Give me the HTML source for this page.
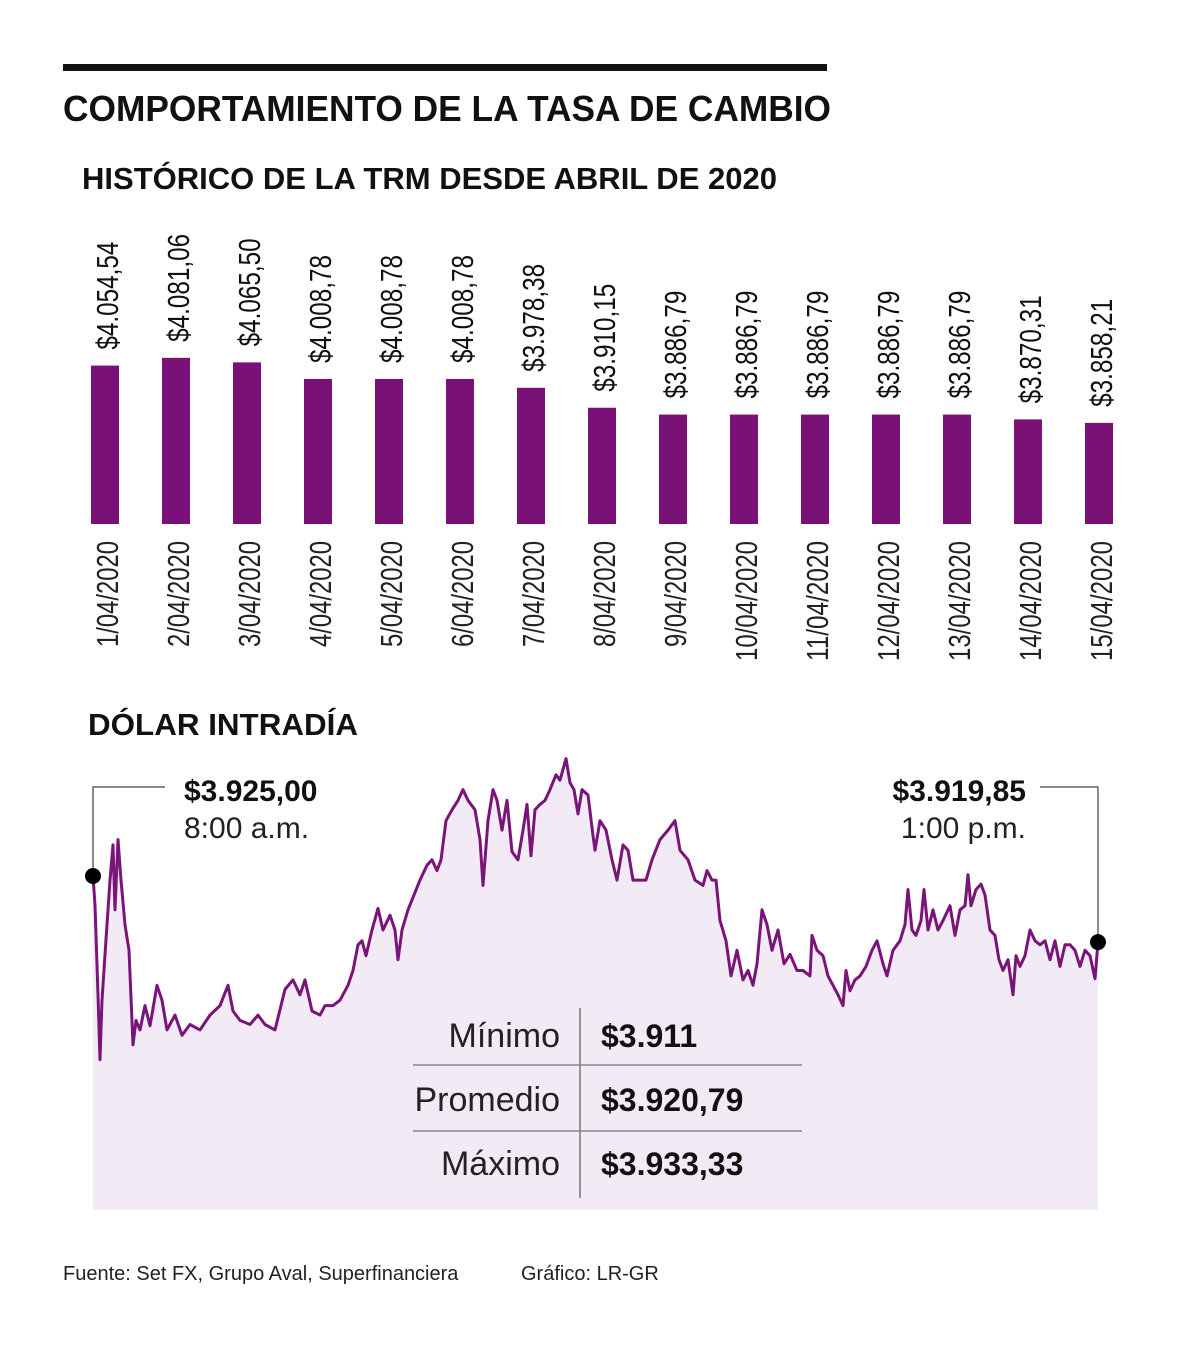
<!DOCTYPE html>
<html><head><meta charset="utf-8"><style>
html,body{margin:0;padding:0;background:#fff;}
svg{display:block;font-family:"Liberation Sans",sans-serif;}
</style></head><body>
<svg id="chart" width="1200" height="1345" viewBox="0 0 1200 1345" xmlns="http://www.w3.org/2000/svg">
<rect x="63" y="64" width="764" height="7" fill="#111"/>
<text x="63" y="121" font-size="36" font-weight="bold" fill="#111" textLength="768" lengthAdjust="spacingAndGlyphs">COMPORTAMIENTO DE LA TASA DE CAMBIO</text>
<text x="82" y="189" font-size="31" font-weight="bold" fill="#111" textLength="695" lengthAdjust="spacingAndGlyphs">HISTÓRICO DE LA TRM DESDE ABRIL DE 2020</text>
<g id="bars"></g>
<text x="88" y="735" font-size="31" font-weight="bold" fill="#111" textLength="270" lengthAdjust="spacingAndGlyphs">DÓLAR INTRADÍA</text>
<g id="intraday"></g>
<g>
<line x1="580" y1="1008" x2="580" y2="1198" stroke="#777" stroke-width="1.5"/>
<line x1="413" y1="1065" x2="802" y2="1065" stroke="#888" stroke-width="1.5"/>
<line x1="413" y1="1131" x2="802" y2="1131" stroke="#888" stroke-width="1.5"/>
<text x="560" y="1047" font-size="34" fill="#222" text-anchor="end">Mínimo</text>
<text x="560" y="1111" font-size="34" fill="#222" text-anchor="end">Promedio</text>
<text x="560" y="1175" font-size="34" fill="#222" text-anchor="end">Máximo</text>
<text x="601" y="1047" font-size="32" font-weight="bold" fill="#111">$3.911</text>
<text x="601" y="1111" font-size="32" font-weight="bold" fill="#111">$3.920,79</text>
<text x="601" y="1175" font-size="32" font-weight="bold" fill="#111">$3.933,33</text>
</g>
<text x="63" y="1280" font-size="20" fill="#222">Fuente: Set FX, Grupo Aval, Superfinanciera</text>
<text x="521" y="1280" font-size="20" fill="#222">Gráfico: LR-GR</text>
</svg>
<script>
const dates = ["1/04/2020","2/04/2020","3/04/2020","4/04/2020","5/04/2020","6/04/2020","7/04/2020","8/04/2020","9/04/2020","10/04/2020","11/04/2020","12/04/2020","13/04/2020","14/04/2020","15/04/2020"];
const trm = [4054.54,4081.06,4065.50,4008.78,4008.78,4008.78,3978.38,3910.15,3886.79,3886.79,3886.79,3886.79,3886.79,3870.31,3858.21];
const trmLabels = ["$4.054,54","$4.081,06","$4.065,50","$4.008,78","$4.008,78","$4.008,78","$3.978,38","$3.910,15","$3.886,79","$3.886,79","$3.886,79","$3.886,79","$3.886,79","$3.870,31","$3.858,21"];

const times = [0,2,5,7,9,13,17,20,22,25,28,32,36,40,43,47,52,57,64,69,74,82,89,97,107,117,127,135,140,147,157,165,172,182,192,200,207,212,219,227,232,240,247,255,260,265,269,273,279,285,290,297,302,305,309,315,321,327,334,339,344,348,353,359,365,370,375,382,387,390,395,400,404,409,414,419,425,430,434,438,442,447,452,457,463,467,470,473,477,481,485,489,495,500,502,507,513,519,524,530,535,540,547,553,559,567,575,582,587,595,602,610,614,619,623,627,633,638,644,650,655,660,664,669,674,679,685,691,697,704,710,717,719,724,730,735,740,745,750,753,757,762,767,773,779,784,790,794,800,807,812,815,819,823,828,831,835,840,845,850,857,862,867,872,875,878,883,888,892,897,902,906,910,915,920,923,927,932,937,942,947,952,957,962,967,972,977,982,987,992,997,1002,1005];
const rates = [3925.0,3922.85,3916.2,3911.4,3915.8,3920.3,3924.7,3927.3,3922.5,3927.7,3924.7,3921.4,3919.5,3912.5,3914.3,3913.6,3915.4,3913.9,3916.9,3915.8,3913.6,3914.7,3913.2,3914.0,3913.6,3914.7,3915.4,3916.9,3915.0,3914.3,3914.0,3914.7,3914.0,3913.6,3916.6,3917.3,3916.2,3917.3,3915.0,3914.7,3915.4,3915.4,3915.8,3916.9,3918.0,3919.9,3920.2,3919.1,3921.0,3922.6,3921.0,3922.1,3921.0,3918.8,3921.0,3922.5,3923.6,3924.7,3925.8,3926.2,3925.4,3926.2,3929.1,3929.9,3930.6,3931.4,3930.6,3929.9,3927.7,3924.3,3929.1,3931.4,3930.6,3928.4,3930.6,3926.8,3926.2,3928.4,3930.3,3926.5,3929.9,3930.3,3930.6,3931.4,3932.5,3932.1,3932.9,3933.7,3931.9,3931.4,3929.6,3931.4,3931.0,3928.0,3926.9,3929.1,3928.4,3926.2,3924.7,3927.3,3926.9,3924.7,3924.7,3924.7,3926.2,3927.7,3928.4,3929.1,3926.9,3926.2,3924.7,3924.3,3925.4,3924.7,3924.7,3921.7,3920.2,3917.6,3919.5,3917.3,3918.0,3916.9,3918.5,3922.5,3921.4,3919.5,3921.0,3918.5,3919.2,3918.0,3918.0,3917.6,3920.6,3919.5,3919.1,3917.6,3916.9,3916.2,3915.4,3918.0,3916.5,3917.3,3917.6,3918.3,3919.5,3920.2,3918.5,3917.6,3919.5,3920.2,3921.4,3924.0,3921.0,3920.6,3921.7,3924.0,3921.0,3922.5,3921.0,3921.7,3922.8,3920.6,3922.5,3922.8,3925.1,3922.8,3924.0,3924.4,3923.6,3921.0,3920.6,3918.8,3918.0,3918.8,3916.2,3919.1,3918.3,3919.1,3921.0,3920.2,3919.9,3920.2,3918.8,3920.2,3918.3,3919.9,3919.9,3919.5,3918.3,3919.5,3919.1,3917.4,3920.1];

const NS = "http://www.w3.org/2000/svg";
function mk(tag, attrs, parent){const e=document.createElementNS(NS,tag);for(const k in attrs)e.setAttribute(k,attrs[k]);parent.appendChild(e);return e;}

const barBase = 524, barVmin = 3512, barScale = 0.292;
const barY = v => barBase - (v - barVmin) * barScale;
const barX = i => 91 + i * 71;
const bars = document.getElementById('bars');
trm.forEach((v,i)=>{
  const x = barX(i), y = barY(v);
  const r = mk('rect',{x:x,y:y,width:28,height:barBase-y,fill:'#7a1176'},bars);
  
  
  const t = mk('text',{transform:`translate(${x+27},${y-16}) rotate(-90)`,'font-size':31,fill:'#111',textLength:108,lengthAdjust:'spacingAndGlyphs'},bars);
  t.textContent = trmLabels[i];
  
  
  const d = mk('text',{transform:`translate(${x+27},541) rotate(-90)`,'font-size':31,fill:'#222','text-anchor':'end',textLength:dates[i].length>9?120:106,lengthAdjust:'spacingAndGlyphs'},bars);
  d.textContent = dates[i];
  
  
});

const ix = t => 93 + t;
const iy = v => 876 - (v - 3925) * 13.5;
const g = document.getElementById('intraday');
const n = Math.min(times.length, rates.length);
const pts = [];
for (let i=0;i<n;i++) pts.push(ix(times[i]).toFixed(1)+','+iy(rates[i]).toFixed(1));
const x0 = ix(times[0]), y0 = iy(rates[0]), x1 = ix(times[n-1]), y1 = iy(rates[n-1]);
const area = mk('polygon',{points:`${x0},1210 `+pts.join(' ')+` ${x1},1210`,fill:'#f2ebf6'},g);


const line = mk('polyline',{points:pts.join(' '),fill:'none',stroke:'#7a1478','stroke-width':3,'stroke-linejoin':'round'},g);


const c1 = mk('polyline',{points:`${x0},${y0} ${x0},787 165,787`,fill:'none',stroke:'#666','stroke-width':1.5},g);


const c2 = mk('polyline',{points:`1040,787 ${x1},787 ${x1},${y1}`,fill:'none',stroke:'#666','stroke-width':1.5},g);


const d1 = mk('circle',{cx:x0,cy:y0,r:8,fill:'#000'},g);


const d2 = mk('circle',{cx:x1,cy:y1,r:8,fill:'#000'},g);


const texts = [
 ['$3.925,00',184,801,'start','bold','open-value'],
 ['8:00 a.m.',184,838,'start','normal','open-time'],
 ['$3.919,85',1026,801,'end','bold','close-value'],
 ['1:00 p.m.',1026,838,'end','normal','close-time']];
texts.forEach(a=>{
  const t = mk('text',{x:a[1],y:a[2],'font-size':30,'font-weight':a[4],fill:a[4]==='bold'?'#111':'#222','text-anchor':a[3]},g);
  t.textContent = a[0];
  
  
});
</script>
</body></html>
